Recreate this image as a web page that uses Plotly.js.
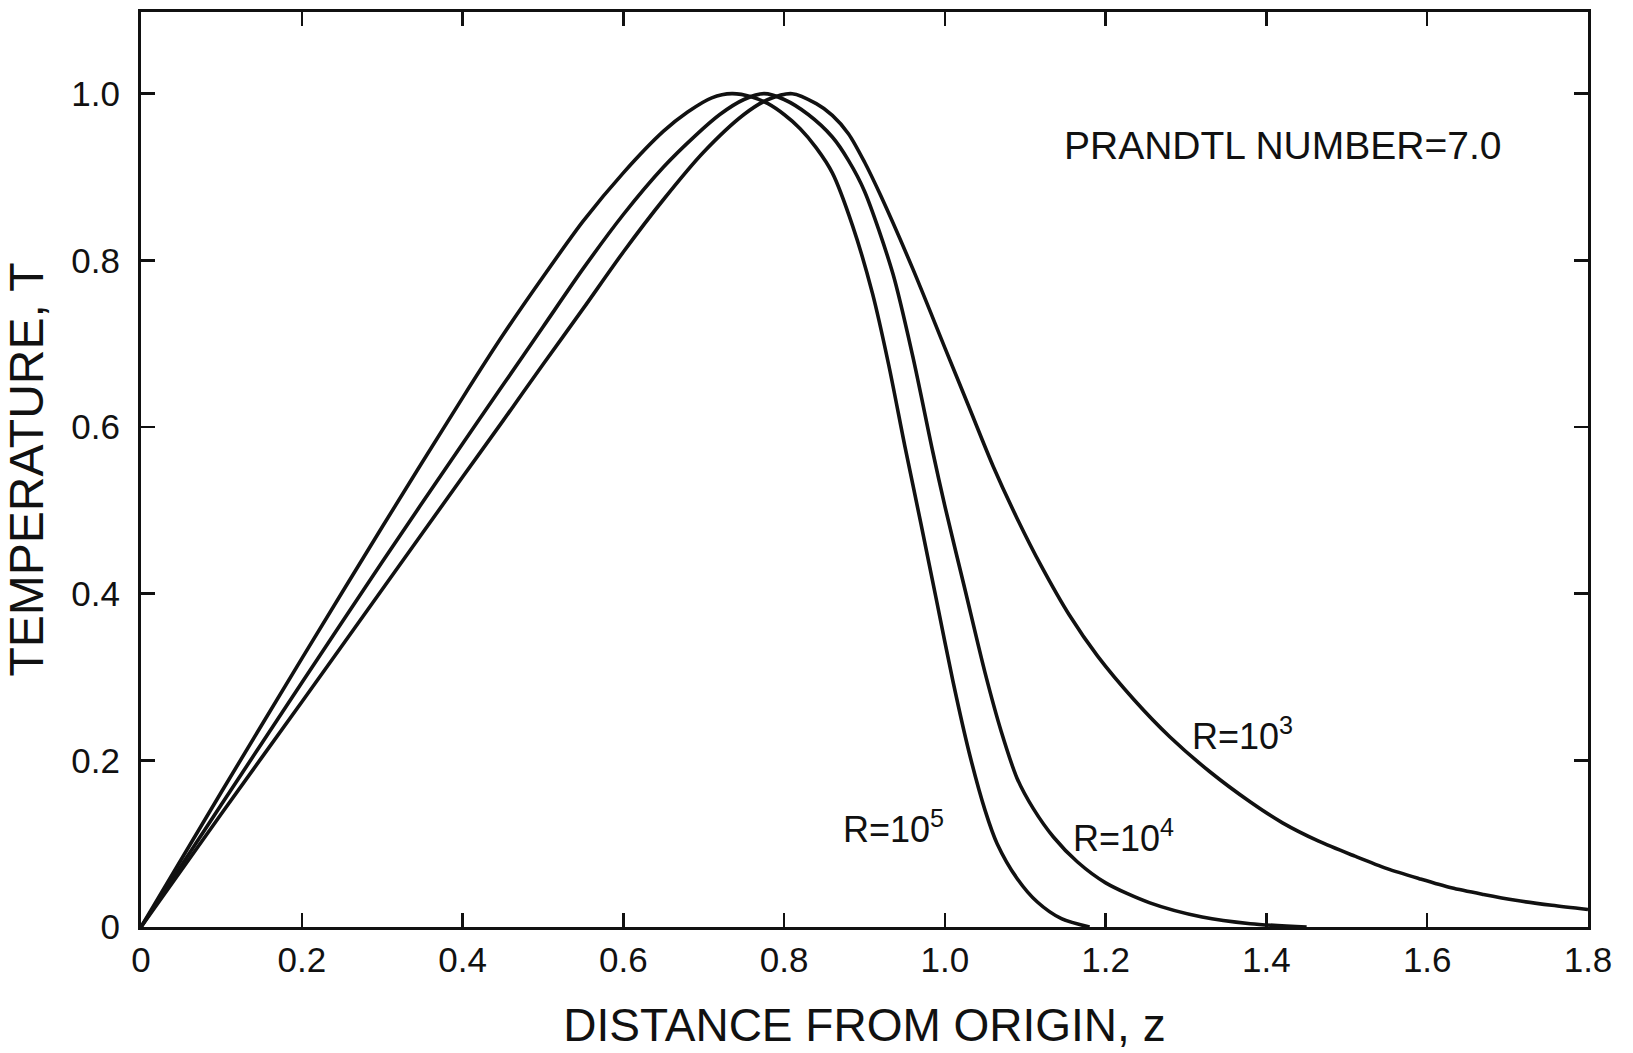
<!DOCTYPE html>
<html>
<head>
<meta charset="utf-8">
<script src="https://cdn.plot.ly/plotly-3.0.1.min.js"></script>
<style>
  html, body { margin: 0; padding: 0; background: #fff; }
  #chart { width: 1633px; height: 1053px; }
</style>
</head>
<body>
<div id="chart"></div>
<script>
// Temperature profiles T(z), Prandtl number 7.0
const zR5 = [0, 0.10, 0.20, 0.30, 0.40, 0.45, 0.50, 0.55, 0.60, 0.65, 0.68, 0.71, 0.735, 0.76, 0.78, 0.80, 0.82, 0.84, 0.86, 0.885, 0.91, 0.93, 0.95, 0.97, 0.99, 1.01, 1.03, 1.05, 1.065, 1.09, 1.115, 1.145, 1.18];
const tR5 = [0, 0.162, 0.322, 0.48, 0.635, 0.71, 0.78, 0.847, 0.905, 0.955, 0.978, 0.995, 1.0, 0.996, 0.988, 0.975, 0.958, 0.935, 0.905, 0.842, 0.76, 0.675, 0.578, 0.485, 0.39, 0.295, 0.21, 0.14, 0.10, 0.058, 0.03, 0.01, 0.0];

const zR4 = [0, 0.10, 0.20, 0.30, 0.40, 0.45, 0.50, 0.55, 0.60, 0.65, 0.69, 0.72, 0.75, 0.775, 0.80, 0.83, 0.86, 0.88, 0.90, 0.935, 0.96, 0.985, 1.0, 1.025, 1.05, 1.07, 1.09, 1.11, 1.135, 1.165, 1.20, 1.255, 1.32, 1.38, 1.45];
const tR4 = [0, 0.147, 0.293, 0.438, 0.58, 0.65, 0.72, 0.79, 0.855, 0.912, 0.95, 0.975, 0.993, 1.0, 0.993, 0.975, 0.948, 0.92, 0.883, 0.785, 0.685, 0.57, 0.505, 0.405, 0.305, 0.235, 0.178, 0.142, 0.108, 0.078, 0.053, 0.029, 0.012, 0.004, 0.0];

const zR3 = [0, 0.10, 0.20, 0.30, 0.40, 0.45, 0.50, 0.55, 0.60, 0.65, 0.70, 0.75, 0.78, 0.81, 0.84, 0.86, 0.88, 0.90, 0.92, 0.96, 1.00, 1.03, 1.06, 1.09, 1.12, 1.155, 1.19, 1.235, 1.28, 1.33, 1.38, 1.42, 1.465, 1.51, 1.55, 1.59, 1.63, 1.67, 1.71, 1.755, 1.80];
const tR3 = [0, 0.136, 0.27, 0.405, 0.54, 0.607, 0.675, 0.742, 0.81, 0.873, 0.93, 0.975, 0.993, 1.0, 0.988, 0.974, 0.952, 0.918, 0.878, 0.79, 0.695, 0.624, 0.553, 0.49, 0.433, 0.374, 0.325, 0.273, 0.228, 0.186, 0.15, 0.125, 0.103, 0.085, 0.07, 0.058, 0.047, 0.039, 0.032, 0.026, 0.021];

const xTickVals = [0, 0.2, 0.4, 0.6, 0.8, 1.0, 1.2, 1.4, 1.6, 1.8];
const xTickText = ['0', '0.2', '0.4', '0.6', '0.8', '1.0', '1.2', '1.4', '1.6', '1.8'];
const yTickVals = [0, 0.2, 0.4, 0.6, 0.8, 1.0];
const yTickText = ['0', '0.2', '0.4', '0.6', '0.8', '1.0'];

const curveLabels = ['R=10<sup>5</sup>', 'R=10<sup>4</sup>', 'R=10<sup>3</sup>'];
const labelX = [0.871, 1.157, 1.305];
const labelY = [0.120, 0.109, 0.232];
const noteText = 'PRANDTL NUMBER=7.0';

const FONT = 'Liberation Sans, Arial, DejaVu Sans, sans-serif';
const lineStyle = { color: '#111', width: 3.6, shape: 'spline', smoothing: 0.8 };

const traces = [
  { x: zR5, y: tR5, name: 'R=1e5' },
  { x: zR4, y: tR4, name: 'R=1e4' },
  { x: zR3, y: tR3, name: 'R=1e3' }
].map(t => Object.assign(t, { type: 'scatter', mode: 'lines', line: lineStyle, hoverinfo: 'x+y' }));

const annotations = curveLabels.map((txt, i) => ({
  x: labelX[i], y: labelY[i], xref: 'x', yref: 'y',
  text: txt, showarrow: false, xanchor: 'left', yanchor: 'middle',
  font: { family: FONT, size: 36, color: '#111' }
}));
annotations.push({
  x: 1.146, y: 0.938, xref: 'x', yref: 'y', text: noteText, showarrow: false,
  xanchor: 'left', yanchor: 'middle',
  font: { family: FONT, size: 39, color: '#111' }
});

const axisCommon = {
  showline: true, linecolor: '#111', linewidth: 3,
  mirror: 'ticks', ticks: 'inside', ticklen: 14, tickwidth: 2.5, tickcolor: '#111',
  showgrid: false, zeroline: false, tickmode: 'array',
  tickfont: { family: FONT, size: 35, color: '#111' }
};

const layout = {
  width: 1633, height: 1053,
  margin: { l: 141, r: 45, t: 12, b: 126 },
  paper_bgcolor: '#fff', plot_bgcolor: '#fff',
  showlegend: false,
  xaxis: Object.assign({}, axisCommon, {
    range: [0, 1.8], tickvals: xTickVals, ticktext: xTickText,
    ticklabelstandoff: 0,
    title: { text: 'DISTANCE FROM ORIGIN, z', font: { family: FONT, size: 46, color: '#111' }, standoff: 31 }
  }),
  yaxis: Object.assign({}, axisCommon, {
    range: [0, 1.098], tickvals: yTickVals, ticktext: yTickText,
    ticklabelstandoff: 11,
    title: { text: 'TEMPERATURE, T', font: { family: FONT, size: 48, color: '#111' }, standoff: 14 }
  }),
  annotations: annotations
};

Plotly.newPlot('chart', traces, layout, { displayModeBar: false, staticPlot: true });
</script>
</body>
</html>
